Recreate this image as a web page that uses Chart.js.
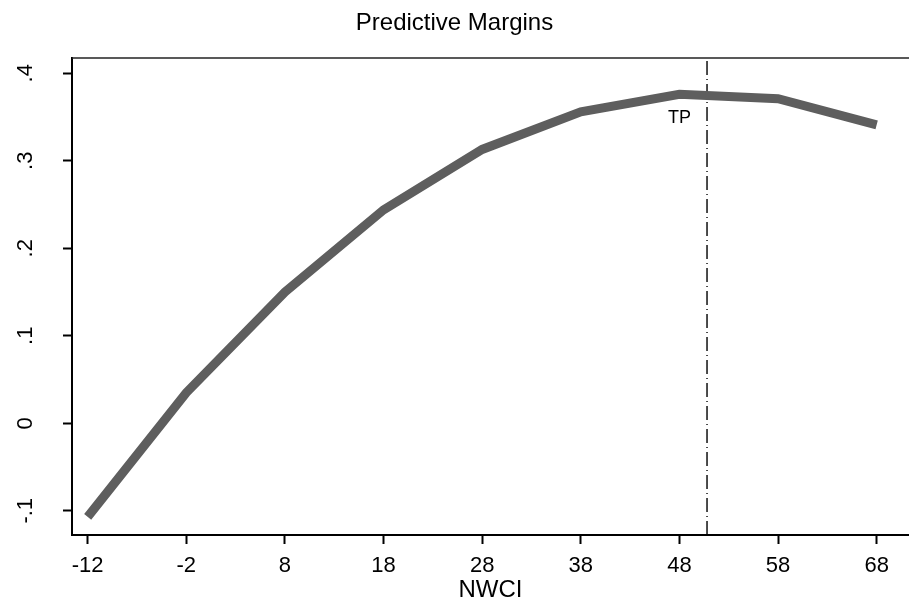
<!DOCTYPE html>
<html>
<head>
<meta charset="utf-8">
<script src="https://cdn.jsdelivr.net/npm/chart.js@4"></script>
<style>
  body { margin: 0; background: #fff; }
  #wrap { width: 909px; height: 602px; }
</style>
</head>
<body>
<div id="wrap"><canvas id="marginsChart" width="909" height="602"></canvas></div>
<script>
// values
const nwci = [-12, -2, 8, 18, 28, 38, 48, 58, 68];
const margins = [-0.107, 0.035, 0.150, 0.244, 0.313, 0.356, 0.376, 0.371, 0.341];

const xTicks = [-12, -2, 8, 18, 28, 38, 48, 58, 68];
const yTicks = [-0.1, 0, 0.1, 0.2, 0.3, 0.4];
const yTickLabels = ["-.1", "0", ".1", ".2", ".3", ".4"];

const xMin = -13.59, xMax = 71.28;
const yMin = -0.1277, yMax = 0.4175;

// turning point marker
const tpX = 50.8;
const tpLabel = "TP";
const tpLabelX = 48;
const tpLabelY = 0.349;

Chart.defaults.font.family = "'Liberation Sans', Arial, sans-serif";
Chart.defaults.color = "#000";

let points = nwci.map((x, i) => ({ x: x, y: margins[i] }));
let tpLine = [{ x: tpX, y: yMin }, { x: tpX, y: yMax }];

// top frame line + TP text
const extras = {
  id: "extras",
  afterDraw(chart) {
    let ctx = chart.ctx;
    let a = chart.chartArea;
    ctx.save();
    ctx.strokeStyle = "#222";
    ctx.lineWidth = 1.5;
    ctx.beginPath();
    ctx.moveTo(a.left, a.top);
    ctx.lineTo(a.right, a.top);
    ctx.stroke();

    ctx.fillStyle = "#000";
    ctx.font = "18px 'Liberation Sans', Arial, sans-serif";
    ctx.textAlign = "center";
    ctx.textBaseline = "middle";
    ctx.fillText(
      tpLabel,
      chart.scales.x.getPixelForValue(tpLabelX),
      chart.scales.y.getPixelForValue(tpLabelY)
    );
    ctx.restore();
  },
};

let ctx = document.getElementById("marginsChart").getContext("2d");
new Chart(ctx, {
  type: "line",
  data: {
    datasets: [
      {
        data: points,
        borderColor: "#5e5e5e",
        borderWidth: 9,
        borderCapStyle: "butt",
        borderJoinStyle: "miter",
        pointRadius: 0,
        tension: 0,
        fill: false,
      },
      {
        data: tpLine,
        borderColor: "#000",
        borderWidth: 1.4,
        borderDash: [14, 4, 1, 4],
        pointRadius: 0,
        fill: false,
      },
    ],
  },
  options: {
    responsive: false,
    animation: false,
    layout: { padding: { top: 0, right: 0, bottom: 0, left: 0 } },
    plugins: {
      legend: { display: false },
      tooltip: { enabled: false },
      title: {
        display: true,
        text: "Predictive Margins",
        color: "#000",
        font: { size: 24, weight: "normal", lineHeight: 1.2 },
        padding: { top: 8.6, bottom: 20.6 },
      },
    },
    scales: {
      x: {
        type: "linear",
        min: xMin,
        max: xMax,
        afterBuildTicks: (s) => {
          s.ticks = xTicks.map((v) => ({ value: v }));
        },
        afterFit: (s) => {
          s.height = 67;
        },
        ticks: {
          autoSkip: false,
          maxRotation: 0,
          padding: 9,
          color: "#000",
          font: { size: 22 },
          callback: (v) => String(v),
        },
        grid: {
          drawOnChartArea: false,
          drawTicks: true,
          tickLength: 9,
          tickColor: "#000",
          tickWidth: 2,
        },
        border: { display: true, color: "#000", width: 2 },
        title: {
          display: true,
          text: "NWCI",
          color: "#000",
          font: { size: 24, lineHeight: 1 },
          padding: { top: 1, bottom: 0 },
        },
      },
      y: {
        type: "linear",
        min: yMin,
        max: yMax,
        afterBuildTicks: (s) => {
          s.ticks = yTicks.map((v) => ({ value: v }));
        },
        afterFit: (s) => {
          s.width = 72;
        },
        ticks: {
          minRotation: 90,
          maxRotation: 90,
          crossAlign: "center",
          padding: 24.7,
          color: "#000",
          font: { size: 22 },
          callback: (v) => {
            let i = yTicks.findIndex((t) => Math.abs(t - v) < 1e-9);
            return i >= 0 ? yTickLabels[i] : "";
          },
        },
        grid: {
          drawOnChartArea: false,
          drawTicks: true,
          tickLength: 9,
          tickColor: "#000",
          tickWidth: 2,
        },
        border: { display: true, color: "#000", width: 2 },
      },
    },
  },
  plugins: [extras],
});
</script>
</body>
</html>
